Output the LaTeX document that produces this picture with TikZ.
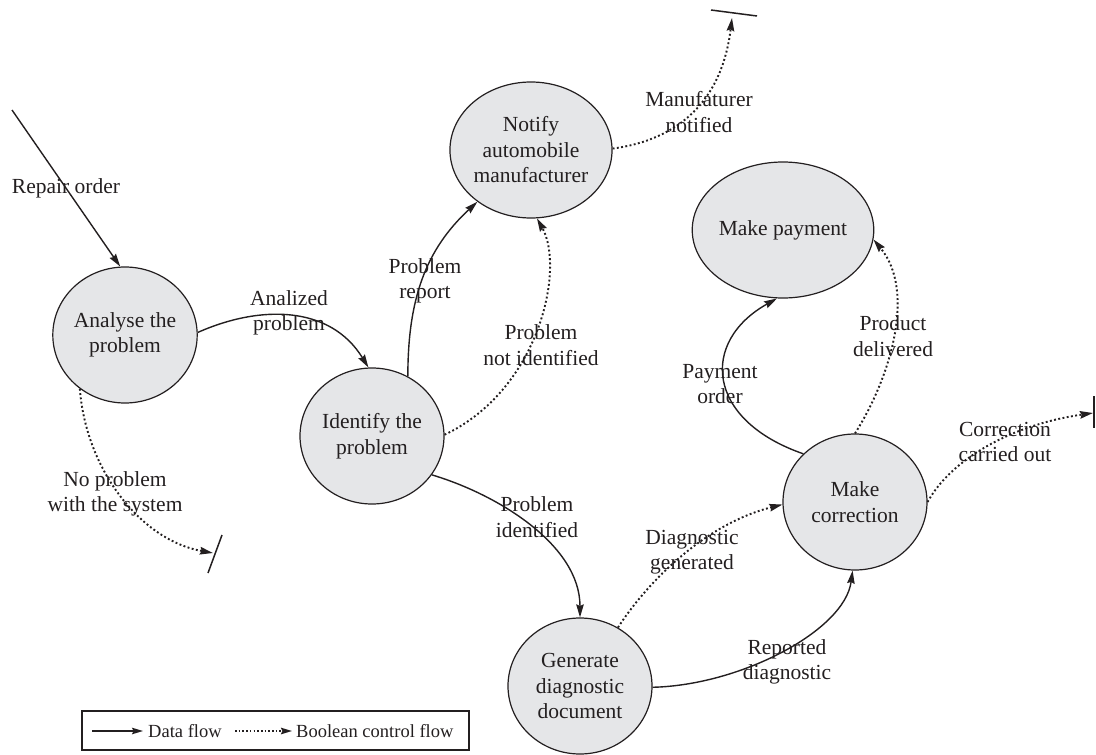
\documentclass[tikz,border=0pt]{standalone}
\usepackage{fontspec}
\setmainfont{Liberation Serif}
\usetikzlibrary{shapes.geometric,arrows.meta}
\definecolor{procfill}{RGB}{229,230,232}
\definecolor{ink}{RGB}{35,31,32}
\newcommand\dfdfont{\fontsize{21.5}{25.5}\selectfont}
\newcommand\legfont{\fontsize{18.5}{22}\selectfont}
\begin{document}
\begin{tikzpicture}[x=1pt,y=-1pt,
  proc/.style={ellipse,draw=ink,line width=1.2pt,fill=procfill,minimum width=144pt,minimum height=136pt,inner sep=0pt,align=center,font=\dfdfont,text=ink},
  lbl/.style={align=center,font=\dfdfont,text=ink,inner sep=0pt},
  legtext/.style={anchor=west,font=\legfont,text=ink,inner sep=0pt},
  dflow/.style={draw=ink,line width=1.4pt,-{Stealth[length=13pt,width=7.5pt,inset=1.5pt]}},
  cflow/.style={draw=ink,line width=1.9pt,dash pattern=on 1.9pt off 2.4pt,-{Stealth[length=13pt,width=7.5pt,inset=1.5pt]}},
  legd/.style={draw=ink,line width=1.3pt,-{Stealth[length=11pt,width=6.5pt,inset=1.5pt]}},
  legc/.style={draw=ink,line width=1.6pt,dash pattern=on 1.6pt off 2.1pt,-{Stealth[length=11pt,width=6.5pt,inset=1.5pt]}},
  termbar/.style={draw=ink,line width=1.5pt}]
\useasboundingbox (0,0) rectangle (1096,755);

% processes
\node[proc] (ana) at (125,335) {Analyse the\\problem};
\node[proc] (idf) at (372,436) {Identify the\\problem};
\node[proc] (ntf) at (531,150) {Notify\\automobile\\manufacturer};
\node[proc] (pay) at (783,230) {Make payment};
\node[proc] (cor) at (855,502) {Make\\correction};
\node[proc] (gen) at (580,686) {Generate\\diagnostic\\document};

% free ends and terminators
\coordinate (rostart) at (12,110);
\coordinate (mfend) at (732,18);
\coordinate (mfbarA) at (711,10);
\coordinate (mfbarB) at (757,16);
\coordinate (npend) at (213,553);
\coordinate (npbarA) at (222,535);
\coordinate (npbarB) at (208,573);
\coordinate (ccend) at (1093,413);
\coordinate (ccbarA) at (1094,396);
\coordinate (ccbarB) at (1094,428);

\draw[termbar] (mfbarA) -- (mfbarB);
\draw[termbar] (npbarA) -- (npbarB);
\draw[termbar] (ccbarA) -- (ccbarB);

% data flows
\draw[dflow] (rostart) -- (ana.94);
\draw[dflow] (ana.2) .. controls +(63,-28) and +(-38,-62) .. (idf.93);
\draw[dflow] (idf.59) .. controls +(0,-77) and +(-52,48) .. (ntf.224);
\draw[dflow] (idf.327) .. controls +(67,20) and +(0,-72) .. (gen.90);
\draw[dflow] (gen.359) .. controls +(88,-2) and +(-8,60) .. (cor.268);
\draw[dflow] (cor.137) .. controls +(-98,-34) and +(-77,43) .. (pay.265);

% control flows
\draw[cflow] (idf.1) .. controls +(95,-45) and +(28,50) .. (ntf.275);
\draw[cflow] (ntf.1) .. controls +(67,-9) and +(-10,82) .. (mfend);
\draw[cflow] (ana.230) .. controls +(6,80) and +(-73,-13) .. (npend);
\draw[cflow] (gen.57) .. controls +(27,-42) and +(-80,20) .. (cor.182);
\draw[cflow] (cor.90) .. controls +(35,-55) and +(43,52) .. (pay.354);
\draw[cflow] (cor.0) .. controls +(23,-42) and +(-83,12) .. (ccend);

% labels
\node[lbl] (lro) at (66,188) {Repair order};
\node[lbl] (lap) at (289,313) {Analized\\problem};
\node[lbl] (lpr) at (425,281) {Problem\\report};
\node[lbl] (lpn) at (541,345) {Problem\\not identified};
\node[lbl] (lmn) at (699,112) {Manufaturer\\notified};
\node[lbl] (lnp) at (115,494) {No problem\\with the system};
\node[lbl] (lpi) at (537,517) {Problem\\identified};
\node[lbl] (ldg) at (692,552) {Diagnostic\\generated};
\node[lbl] (lrd) at (787,662) {Reported\\diagnostic};
\node[lbl] (lpo) at (720,384) {Payment\\order};
\node[lbl] (lpd) at (893,336) {Product\\delivered};
\node[lbl] (lcc) at (1005,442) {Correction\\carried out};

% legend
\draw[draw=ink,line width=1.2pt] (82,711) rectangle (469,750);
\coordinate (ldA) at (92,731);
\coordinate (ldB) at (143,731);
\coordinate (lcA) at (235,731);
\coordinate (lcB) at (292,731);
\draw[legd] (ldA) -- (ldB);
\draw[legc] (lcA) -- (lcB);
\node[legtext] (ldt) at (148,731) {Data flow};
\node[legtext] (lct) at (296,731) {Boolean control flow};
\end{tikzpicture}
\end{document}
